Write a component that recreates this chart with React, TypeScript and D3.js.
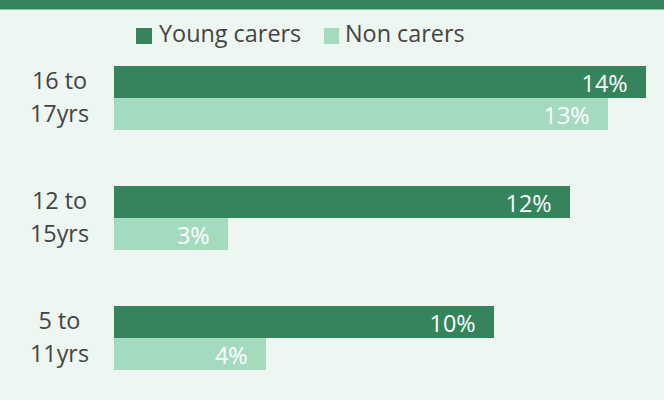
import React from "react";
import * as d3 from "d3";

const categories = [["16 to", "17yrs"], ["12 to", "15yrs"], ["5 to", "11yrs"]];
const youngCarers = [14, 12, 10];
const nonCarers = [13, 3, 4];
const seriesNames = ["Young carers", "Non carers"];

const W = 664, H = 400;
const DARK = "#35845c", LIGHT = "#a4dbbf", BG = "#edf6f1", TEXT = "#444444";
const FONT = "'Open Sans', sans-serif";
const FS = 23.4;

export default function App() {
  const x = d3.scaleLinear().domain([0, 14]).range([114, 646]);
  const y = d3.scaleBand<number>().domain([0, 1, 2]).range([66, 426]).paddingInner(0).paddingOuter(0);
  const barH = 32;
  const series = [youngCarers, nonCarers];
  const colors = [DARK, LIGHT];
  return (
    <svg width={W} height={H} style={{ position: "absolute", left: 0, top: 0, display: "block" }}>
      <rect width={W} height={H} fill={BG} />
      <rect width={W} height={9.5} fill={DARK} />
      <g fontFamily={FONT} fontSize={FS} fill={TEXT}>
        <rect x={136} y={28} width={16} height={16} fill={DARK} />
        <text x={159} y={42.3}>{seriesNames[0]}</text>
        <rect x={324} y={28} width={15} height={16} fill={LIGHT} />
        <text x={345} y={42.3}>{seriesNames[1]}</text>
      </g>
      {categories.map((cat, i) => {
        const y0 = y(i)!;
        return (
          <g key={i} fontFamily={FONT} fontSize={FS}>
            <text x={59.5} y={y0 + 23} textAnchor="middle" fill={TEXT}>{cat[0]}</text>
            <text x={59.5} y={y0 + 56.3} textAnchor="middle" fill={TEXT}>{cat[1]}</text>
            {series.map((s, j) => (
              <g key={j}>
                <rect x={x(0)} y={y0 + j * barH} width={x(s[i]) - x(0)} height={barH} fill={colors[j]} />
                <text x={x(s[i]) - 18.3} y={y0 + j * barH + 25.7} textAnchor="end" fill="#ffffff">{s[i]}%</text>
              </g>
            ))}
          </g>
        );
      })}
    </svg>
  );
}
